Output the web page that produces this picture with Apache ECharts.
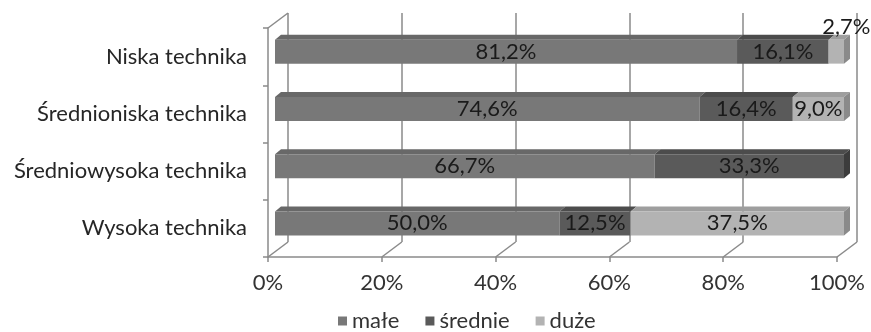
<!DOCTYPE html>
<html>
<head>
<meta charset="utf-8">
<script src="https://cdn.jsdelivr.net/npm/echarts@6/dist/echarts.min.js"></script>
<style>
  html, body { margin: 0; padding: 0; background: #ffffff; }
  #chart { width: 871px; height: 332px; }
</style>
</head>
<body>
<div id="chart"></div>
<script>
// Firm size structure by technology level (shares, %)
const categories = ['Niska technika', 'Średnioniska technika', 'Średniowysoka technika', 'Wysoka technika'];
const male = [81.2, 74.6, 66.7, 50.0];
const srednie = [16.1, 16.4, 33.3, 12.5];
const duze = [2.7, 9.0, 0, 37.5];
const seriesNames = ['małe', 'średnie', 'duże'];
const xTicks = [0, 20, 40, 60, 80, 100];

// Look of the pseudo-3D box
const FONT = 'Lato';
const FRONT = { left: 268, top: 28, width: 569, height: 229 };
const DEPTH = [20, -15];       // offset from the front plane to the back wall
const BAR_PLANE = [7, -5];     // where the bars' front faces sit inside that depth
const BAR_DEPTH = [6, -5];     // thickness of each bar
const BAR_W = 24;
const WALL = '#8a8a8a';
const FRONT_COLORS = ['#787878', '#5a5a5a', '#b3b3b3'];
const TOP_COLORS = ['#686868', '#4c4c4c', '#9e9e9e'];
const SIDE_COLORS = ['#5a5a5a', '#3c3c3c', '#8a8a8a'];

const values = [male, srednie, duze];

function gridAt(off) {
  return { left: FRONT.left + off[0], top: FRONT.top + off[1], width: FRONT.width, height: FRONT.height };
}
function pct(v) { return v.toFixed(1).replace('.', ',') + '%'; }

const valueAxisBase = { type: 'value', min: 0, max: 100, interval: 20 };
const hiddenCat = { type: 'category', data: categories, inverse: true, show: false };

const barSeries = seriesNames.map((name, s) => ({
  name: name,
  type: 'bar',
  stack: 'total',
  xAxisIndex: 2,
  yAxisIndex: 2,
  barWidth: BAR_W,
  z: 3,
  itemStyle: { color: FRONT_COLORS[s] },
  label: {
    show: true,
    position: 'inside',
    fontFamily: FONT,
    fontSize: 22,
    color: '#1a1a1a',
    formatter: p => (p.value > 0 ? pct(p.value) : '')
  },
  // a sliver too thin for its label carries it above the bar
  data: values[s].map(v => (v > 0 && v < 5)
    ? { value: v, label: { position: 'top', distance: 2, offset: [10, 0] } }
    : v)
}));

// Top and end faces of the stacked bars
const facesSeries = {
  type: 'custom',
  xAxisIndex: 2,
  yAxisIndex: 2,
  z: 2,
  silent: true,
  encode: { x: 0, y: 1 },
  data: categories.map((c, i) => [0, i]),
  renderItem: function (params, api) {
    const i = api.value(1);
    const yc = api.coord([0, i])[1];
    const yt = yc - BAR_W / 2;
    const yb = yc + BAR_W / 2;
    const children = [];
    let start = 0;
    let last = -1, lastX = 0;
    values.forEach((arr, s) => {
      const v = arr[i];
      if (v <= 0) return;
      const x0 = api.coord([start, i])[0];
      const x1 = api.coord([start + v, i])[0];
      children.push({
        type: 'polygon',
        shape: { points: [[x0, yt], [x1, yt], [x1 + BAR_DEPTH[0], yt + BAR_DEPTH[1]], [x0 + BAR_DEPTH[0], yt + BAR_DEPTH[1]]] },
        style: { fill: TOP_COLORS[s] }
      });
      start += v;
      last = s;
      lastX = x1;
    });
    if (last >= 0) {
      children.push({
        type: 'polygon',
        shape: { points: [[lastX, yt], [lastX + BAR_DEPTH[0], yt + BAR_DEPTH[1]], [lastX + BAR_DEPTH[0], yb + BAR_DEPTH[1]], [lastX, yb]] },
        style: { fill: SIDE_COLORS[last] }
      });
    }
    return { type: 'group', children: children };
  }
};

// Floor edges at every tick plus the top edge of the side wall
const wallSeries = {
  type: 'custom',
  xAxisIndex: 1,
  yAxisIndex: 1,
  z: 1,
  silent: true,
  encode: { x: 0, y: 1 },
  data: xTicks.map(v => [v, 0]),
  renderItem: function (params, api) {
    const cs = params.coordSys;
    const x = api.coord([api.value(0), 0])[0];
    const yb = cs.y + cs.height;
    const lineStyle = { stroke: WALL, lineWidth: 1.5 };
    const children = [{
      type: 'line',
      shape: { x1: x, y1: yb, x2: x + DEPTH[0], y2: yb + DEPTH[1] },
      style: lineStyle
    }];
    if (params.dataIndex === 0) {
      children.push({
        type: 'line',
        shape: { x1: cs.x, y1: cs.y, x2: cs.x + DEPTH[0], y2: cs.y + DEPTH[1] },
        style: lineStyle
      });
    }
    return { type: 'group', children: children };
  }
};

const chart = echarts.init(document.getElementById('chart'), null, { renderer: 'canvas' });
chart.setOption({
  animation: false,
  backgroundColor: '#ffffff',
  textStyle: { fontFamily: FONT },
  grid: [gridAt(DEPTH), gridAt([0, 0]), gridAt(BAR_PLANE)],
  legend: {
    data: seriesNames,
    left: 338,
    top: 310,
    padding: 0,
    icon: 'rect',
    itemWidth: 9,
    itemHeight: 9,
    itemGap: 26,
    textStyle: { fontFamily: FONT, fontSize: 22, color: '#333333' }
  },
  xAxis: [
    Object.assign({}, valueAxisBase, {
      gridIndex: 0,
      axisLine: { show: false },
      axisTick: { show: false },
      axisLabel: { show: false },
      splitLine: { show: true, lineStyle: { color: WALL, width: 1.5 } }
    }),
    Object.assign({}, valueAxisBase, {
      gridIndex: 1,
      axisLine: { show: true, lineStyle: { color: WALL, width: 1.5 } },
      axisTick: { show: true, length: 5, lineStyle: { color: WALL, width: 1.5 } },
      axisLabel: { formatter: '{value}%', fontFamily: FONT, fontSize: 22, color: '#333333', margin: 15 },
      splitLine: { show: false }
    }),
    Object.assign({}, valueAxisBase, { gridIndex: 2, show: false })
  ],
  yAxis: [
    Object.assign({}, hiddenCat, { gridIndex: 0 }),
    {
      type: 'category',
      gridIndex: 1,
      data: categories,
      inverse: true,
      axisLine: { show: true, lineStyle: { color: WALL, width: 1.5 } },
      axisTick: { show: true, length: 5, lineStyle: { color: WALL, width: 1.5 } },
      axisLabel: { fontFamily: FONT, fontSize: 22, color: '#262626', margin: 21 },
      splitLine: { show: false }
    },
    Object.assign({}, hiddenCat, { gridIndex: 2 })
  ],
  series: [wallSeries, facesSeries].concat(barSeries)
});
</script>
</body>
</html>
